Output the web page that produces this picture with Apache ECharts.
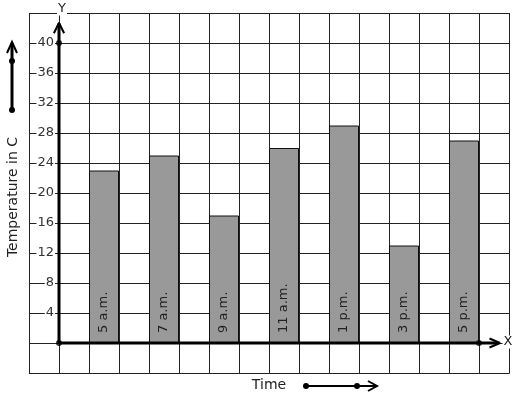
<!DOCTYPE html>
<html>
<head>
<meta charset="utf-8">
<script src="https://cdn.jsdelivr.net/npm/echarts@6/dist/echarts.min.js"></script>
<style>html,body{margin:0;padding:0;background:#fff}#c{width:517px;height:399px}</style>
</head>
<body>
<div id="c"></div>
<script>
var categories = ['5 a.m.', '7 a.m.', '9 a.m.', '11 a.m.', '1 p.m.', '3 p.m.', '5 p.m.'];
var temperatures = [23, 25, 17, 26, 29, 13, 27];
var barPositions = [1.5, 3.5, 5.5, 7.5, 9.5, 11.5, 13.5];
var yTickLabels = [4, 8, 12, 16, 20, 24, 28, 32, 36, 40];

var FONT = 'DejaVu Sans';
var chart = echarts.init(document.getElementById('c'), null, {renderer: 'canvas'});

var barData = categories.map(function (c, i) { return {value: [barPositions[i], temperatures[i]], name: c}; });

var option = {
  animation: false,
  backgroundColor: '#fff',
  grid: {left: 29, top: 13, width: 480, height: 360, show: false},
  xAxis: {
    type: 'value', min: -1, max: 15, interval: 1,
    axisLine: {show: false}, axisTick: {show: false}, axisLabel: {show: false},
    splitLine: {show: true, lineStyle: {color: '#222', width: 1}}
  },
  yAxis: {
    type: 'value', min: -4, max: 44, interval: 4, offset: -30,
    axisLine: {show: false, onZero: false}, axisTick: {show: false},
    axisLabel: {
      margin: 4, fontFamily: FONT, fontSize: 13, color: '#333',
      backgroundColor: '#fff', padding: [0, 1, 0, 1],
      formatter: function (v) { return yTickLabels.indexOf(v) >= 0 ? String(v) : ''; }
    },
    splitLine: {show: true, lineStyle: {color: '#222', width: 1}}
  },
  graphic: [
    {type: 'rect', shape: {x: 29.5, y: 13.5, width: 480, height: 360}, style: {fill: 'none', stroke: '#222', lineWidth: 1}, z: 1},
    {type: 'text', x: 62, y: 9, style: {text: 'Y', fontFamily: FONT, fontSize: 13, fill: '#222', align: 'center', verticalAlign: 'middle', backgroundColor: '#fff', padding: [0, 1]}, z: 100},
    {type: 'text', x: 508, y: 342, style: {text: 'X', fontFamily: FONT, fontSize: 13, fill: '#222', align: 'center', verticalAlign: 'middle', backgroundColor: '#fff', padding: [0, 1]}, z: 100},
    {type: 'text', x: 13, y: 197, rotation: Math.PI / 2, style: {text: 'Temperature in C', fontFamily: FONT, fontSize: 14, fill: '#222', align: 'center', verticalAlign: 'middle'}, z: 100},
    {type: 'text', x: 269, y: 385, style: {text: 'Time', fontFamily: FONT, fontSize: 14, fill: '#222', align: 'center', verticalAlign: 'middle'}, z: 100},
    {type: 'line', shape: {x1: 12, y1: 110, x2: 12, y2: 43}, style: {stroke: '#000', lineWidth: 3}, z: 100},
    {type: 'polyline', shape: {points: [[7, 53], [12, 42], [17, 53]]}, style: {stroke: '#000', lineWidth: 2, fill: 'none'}, z: 100},
    {type: 'circle', shape: {cx: 12, cy: 61, r: 3}, style: {fill: '#000'}, z: 100},
    {type: 'circle', shape: {cx: 12, cy: 110, r: 3}, style: {fill: '#000'}, z: 100},
    {type: 'line', shape: {x1: 306, y1: 386, x2: 376, y2: 386}, style: {stroke: '#000', lineWidth: 2}, z: 100},
    {type: 'polyline', shape: {points: [[368, 381], [377, 386], [368, 391]]}, style: {stroke: '#000', lineWidth: 2, fill: 'none'}, z: 100},
    {type: 'circle', shape: {cx: 306, cy: 386, r: 3}, style: {fill: '#000'}, z: 100},
    {type: 'circle', shape: {cx: 357, cy: 386, r: 3}, style: {fill: '#000'}, z: 100}
  ],
  series: [
    {
      type: 'bar', data: barData, barWidth: 30, z: 3,
      itemStyle: {color: '#999999', borderColor: '#111', borderWidth: 1},
      label: {
        show: true, position: 'insideBottom', rotate: 90, align: 'left', verticalAlign: 'middle',
        distance: 10, fontFamily: FONT, fontSize: 13, color: '#222',
        formatter: function (p) { return p.name; }
      }
    },
    {
      type: 'line', data: [[0, 0], [0, 42.6]], symbol: 'none', z: 5, silent: true,
      lineStyle: {color: '#000', width: 3}
    },
    {
      type: 'line', data: [[-0.17, 41.3], [0, 42.7], [0.17, 41.3]], symbol: 'none', z: 5, silent: true,
      lineStyle: {color: '#000', width: 2}
    },
    {
      type: 'line', data: [[0, 0], [14.65, 0]], symbol: 'none', z: 5, silent: true,
      lineStyle: {color: '#000', width: 3}
    },
    {
      type: 'line', data: [[14.35, 0.6], [14.7, 0], [14.35, -0.6]], symbol: 'none', z: 5, silent: true,
      lineStyle: {color: '#000', width: 2}
    },
    {
      type: 'scatter', data: [[0, 0], [0, 40], [14, 0]], symbol: 'circle', symbolSize: 6, z: 6, silent: true,
      itemStyle: {color: '#000'}
    }
  ]
};
chart.setOption(option);
</script>
</body>
</html>
